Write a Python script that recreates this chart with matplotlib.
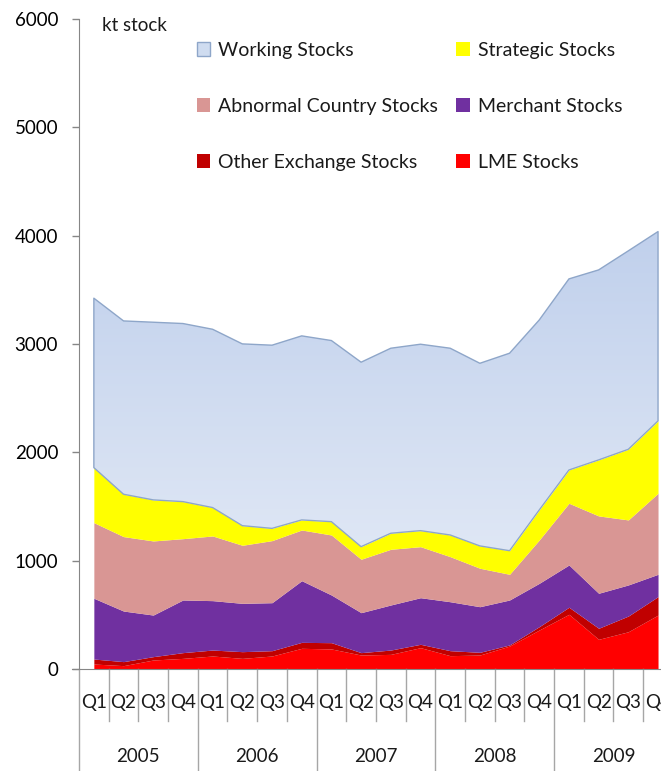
import numpy as np
import matplotlib
matplotlib.use('Agg')
import matplotlib.pyplot as plt
from matplotlib.patches import Patch
import matplotlib.transforms as mtransforms

plt.rcParams['font.family'] = ['Lato', 'DejaVu Sans']
plt.rcParams['font.size'] = 13.5
plt.rcParams['text.color'] = '#1a1a1a'

# quarterly stocks, kt (2005 Q1 .. 2009 Q4)
years = ['2005', '2006', '2007', '2008', '2009']
quarters = ['Q1', 'Q2', 'Q3', 'Q4']

lme = [46, 31, 83, 98, 120, 98, 120, 191, 185, 129,
       135, 197, 123, 129, 212, 360, 505, 274, 344, 498]
other_exchange = [46, 37, 31, 53, 55, 62, 49, 55, 58, 22,
                  40, 31, 46, 25, 10, 31, 65, 102, 145, 170]
merchant = [561, 467, 384, 486, 456, 446, 443, 569, 440, 369,
            416, 430, 452, 421, 415, 400, 390, 323, 287, 206]
abnormal = [698, 687, 684, 566, 597, 536, 573, 468, 554, 493,
            514, 471, 416, 355, 237, 400, 570, 714, 600, 748]
strategic = [508, 391, 379, 342, 262, 181, 113, 93, 123, 116,
             148, 148, 200, 206, 218, 277, 307, 517, 652, 668]
working = [1564, 1600, 1640, 1644, 1646, 1678, 1691, 1699, 1672, 1703,
           1708, 1721, 1724, 1686, 1823, 1754, 1764, 1754, 1832, 1748]

series = [('LME Stocks', lme, '#ff0000'),
          ('Other Exchange Stocks', other_exchange, '#c00000'),
          ('Merchant Stocks', merchant, '#7030a0'),
          ('Abnormal Country Stocks', abnormal, '#d99694'),
          ('Strategic Stocks', strategic, '#ffff00')]

x = np.arange(len(lme))
fig = plt.figure(figsize=(6.61, 7.71), dpi=100)
ax = fig.add_axes([79/661, 102/771, 582/661, 650/771])

base = np.zeros(len(x))
for name, vals, col in series:
    top = base + np.array(vals)
    ax.fill_between(x, base, top, color=col, lw=0)
    base = top

# working stocks: gradient fill, blue outline
top = base + np.array(working)
poly = ax.fill_between(x, base, top, facecolor='none', edgecolor='#8ea6c9', lw=1.0, zorder=3)
grad = np.linspace(0, 1, 256).reshape(-1, 1)
cmap = matplotlib.colors.LinearSegmentedColormap.from_list('wk', ['#c0d0ec', '#dfe7f5'])
im = ax.imshow(grad, cmap=cmap, aspect='auto', origin='upper',
               extent=[x[0], x[-1], base.min(), top.max()], zorder=2)
im.set_clip_path(poly.get_paths()[0], transform=ax.transData)

ax.set_xlim(-0.5, 19.1)
ax.set_ylim(0, 6000)
ax.set_yticks(range(0, 6001, 1000))
ax.tick_params(axis='y', direction='out', length=5, width=1, color='#868686', pad=10)
ax.set_xticks([])
for s in ['top', 'right']:
    ax.spines[s].set_visible(False)
for s in ['left', 'bottom']:
    ax.spines[s].set_color('#868686')
ax.spines['bottom'].set_bounds(-0.5 - 7/29.7, 19.1)

# category axis: quarter and year labels with separators
trans = mtransforms.blended_transform_factory(ax.transData, ax.transAxes)
for i in range(len(x)):
    ax.text(i, -0.052, quarters[i % 4], transform=trans, ha='center', va='center', clip_on=False)
    bottom = -0.157 if i % 4 == 0 else -0.08
    ax.plot([i - 0.5, i - 0.5], [0, bottom], transform=trans, color='#a6a6a6', lw=1, clip_on=False)
for k, yr in enumerate(years):
    ax.text(4*k + 1.5, -0.134, yr, transform=trans, ha='center', va='center', clip_on=False)

ax.text(0.04, 0.99, 'kt stock', transform=ax.transAxes, ha='left', va='center')

# legend fills column by column, so list column 1 first
handles = [Patch(facecolor='#cfdcf0', edgecolor='#8ea6c9', label='Working Stocks'),
           Patch(facecolor='#d99694', label='Abnormal Country Stocks'),
           Patch(facecolor='#c00000', label='Other Exchange Stocks'),
           Patch(facecolor='#ffff00', label='Strategic Stocks'),
           Patch(facecolor='#7030a0', label='Merchant Stocks'),
           Patch(facecolor='#ff0000', label='LME Stocks')]
ax.legend(handles=handles, ncol=2, loc='upper left', bbox_to_anchor=(0.202, 0.965),
          frameon=False, borderpad=0, borderaxespad=0, handlelength=0.7, handleheight=0.7,
          handletextpad=0.4, labelspacing=2.0, columnspacing=0.95, fontsize=14)

fig.savefig('out.png', dpi=100)
